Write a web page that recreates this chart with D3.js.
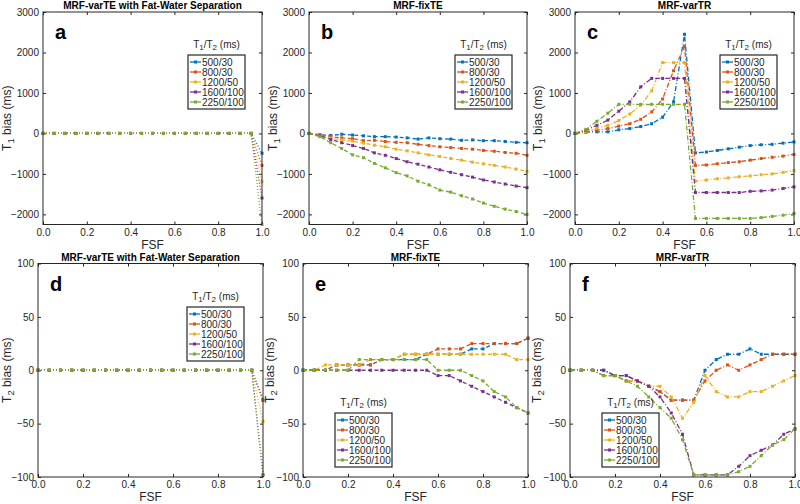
<!DOCTYPE html>
<html>
<head>
<meta charset="utf-8">
<script src="https://cdn.jsdelivr.net/npm/d3@7"></script>
<style>
  html, body { margin: 0; padding: 0; background: #fff; }
  svg { display: block; font-family: "Liberation Sans", Arial, Helvetica, sans-serif; }
</style>
</head>
<body>
<svg id="chart" width="800" height="504"></svg>
<script>
// ---------- data ----------
const fsf = [0, 0.05, 0.1, 0.15, 0.2, 0.25, 0.3, 0.35, 0.4, 0.45, 0.5, 0.55, 0.6, 0.65, 0.7, 0.75, 0.8, 0.85, 0.9, 0.95, 1.0];
const seriesNames = ["500/30", "800/30", "1200/50", "1600/100", "2250/100"];
const seriesColors = ["#0072BD", "#D95319", "#EDB120", "#7E2F8E", "#77AC30"];
const xTicks = [0, 0.2, 0.4, 0.6, 0.8, 1.0];
const t1Ticks = [-2000, -1000, 0, 1000, 2000, 3000];
const t2Ticks = [-100, -50, 0, 50, 100];
const t1Domain = [-2250, 3000];
const t2Domain = [-100, 100];

// (a) T1 bias, MRF-varTE with Fat-Water Separation
const t1VarTE = [
  [0,0,0,0,0,0,0,0,0,0,0,0,0,0,0,0,0,0,0,0,-490],
  [0,0,0,0,0,0,0,0,0,0,0,0,0,0,0,0,0,0,0,0,-790],
  [0,0,0,0,0,0,0,0,0,0,0,0,0,0,0,0,0,0,0,0,-1195],
  [0,0,0,0,0,0,0,0,0,0,0,0,0,0,0,0,0,0,0,0,-1595],
  [0,0,0,0,0,0,0,0,0,0,0,0,0,0,0,0,0,0,0,0,-2250]
];
// (b) T1 bias, MRF-fixTE
const t1FixTE = [
  [0,-30,-50,-20,-40,-60,-80,-80,-90,-110,-140,-110,-130,-140,-170,-160,-180,-180,-200,-220,-230],
  [0,-40,-80,-110,-130,-180,-170,-200,-220,-230,-270,-300,-330,-350,-370,-390,-420,-440,-470,-490,-540],
  [0,-50,-120,-160,-190,-240,-290,-330,-390,-430,-480,-530,-570,-620,-660,-710,-750,-790,-830,-880,-940],
  [0,-60,-150,-230,-300,-370,-480,-540,-620,-700,-760,-830,-900,-960,-1020,-1080,-1150,-1200,-1250,-1300,-1340],
  [0,-80,-230,-370,-530,-600,-740,-850,-970,-1050,-1180,-1270,-1400,-1450,-1540,-1620,-1720,-1800,-1870,-1930,-2000]
];
// (c) T1 bias, MRF-varTR
const t1VarTR = [
  [0,30,40,40,90,120,170,240,400,780,2450,-480,-460,-420,-380,-340,-300,-280,-270,-240,-210],
  [0,40,80,120,180,240,350,530,850,1550,2150,-790,-780,-750,-720,-700,-660,-620,-590,-560,-520],
  [0,50,130,200,320,480,700,1050,1750,1750,1750,-1180,-1150,-1120,-1100,-1070,-1050,-1020,-1000,-960,-920],
  [0,80,200,330,550,780,1150,1360,1360,1360,1360,-1460,-1460,-1460,-1460,-1460,-1430,-1420,-1400,-1360,-1320],
  [0,100,300,500,720,720,720,720,720,720,720,-2100,-2100,-2100,-2100,-2100,-2100,-2080,-2050,-2020,-1980]
];
// (d) T2 bias, MRF-varTE with Fat-Water Separation
const t2VarTE = [
  [0,0,0,0,0,0,0,0,0,0,0,0,0,0,0,0,0,0,0,0,-28],
  [0,0,0,0,0,0,0,0,0,0,0,0,0,0,0,0,0,0,0,0,-28],
  [0,0,0,0,0,0,0,0,0,0,0,0,0,0,0,0,0,0,0,0,-48],
  [0,0,0,0,0,0,0,0,0,0,0,0,0,0,0,0,0,0,0,0,-98],
  [0,0,0,0,0,0,0,0,0,0,0,0,0,0,0,0,0,0,0,0,-98]
];
// (e) T2 bias, MRF-fixTE
const t2FixTE = [
  [0,0,0,5,5,5,5,10,10,10,10,15,15,15,15,20,20,25,25,25,30],
  [0,0,0,5,5,5,5,10,10,15,15,15,20,20,20,25,25,25,25,25,30],
  [0,0,5,5,5,5,10,10,10,15,15,15,15,15,15,15,15,15,15,10,10],
  [0,0,0,0,0,0,0,0,0,0,0,0,-5,-5,-10,-15,-20,-25,-30,-35,-40],
  [0,0,0,0,0,10,10,10,10,10,10,10,0,0,0,-5,-10,-20,-25,-35,-40]
];
// (f) T2 bias, MRF-varTR
const t2VarTR = [
  [0,0,0,0,-5,-5,-10,-15,-20,-28,-28,-28,0,10,15,15,20,15,15,15,15],
  [0,0,0,-5,-5,-10,-10,-15,-20,-28,-28,-28,-10,0,5,0,5,10,15,15,15],
  [0,0,0,-5,-5,-10,-10,-15,-15,-25,-45,-30,-5,-20,-25,-25,-20,-20,-15,-10,-5],
  [0,0,0,0,-5,-5,-10,-15,-25,-40,-60,-98,-98,-98,-98,-90,-80,-75,-70,-60,-55],
  [0,0,0,-5,-5,-10,-15,-25,-35,-45,-65,-98,-98,-98,-98,-95,-90,-80,-70,-65,-55]
];

// ---------- layout ----------
const DOT = "1,2", DASH = "4,2.5", DASHDOT = "5,2,1,2";
const panels = [
  { letter: "a", title: "MRF-varTE with Fat-Water Separation", data: t1VarTE, dom: t1Domain, ticks: t1Ticks, param: "1",
    box: [43, 12, 262, 224.5], dash: DOT, leg: [188, 55], lab: 32 },
  { letter: "b", title: "MRF-fixTE", data: t1FixTE, dom: t1Domain, ticks: t1Ticks, param: "1",
    box: [309, 12, 527, 224.5], dash: DASH, leg: [455, 55], lab: 32 },
  { letter: "c", title: "MRF-varTR", data: t1VarTR, dom: t1Domain, ticks: t1Ticks, param: "1",
    box: [575, 12, 794, 224.5], dash: DASHDOT, leg: [720, 55], lab: 33 },
  { letter: "d", title: "MRF-varTE with Fat-Water Separation", data: t2VarTE, dom: t2Domain, ticks: t2Ticks, param: "2",
    box: [38, 263.5, 263, 477], dash: DOT, leg: [187, 307], lab: 27 },
  { letter: "e", title: "MRF-fixTE", data: t2FixTE, dom: t2Domain, ticks: t2Ticks, param: "2",
    box: [303, 263.5, 528, 477], dash: DASH, leg: [335, 413], lab: 29 },
  { letter: "f", title: "MRF-varTR", data: t2VarTR, dom: t2Domain, ticks: t2Ticks, param: "2",
    box: [570, 263.5, 795, 477], dash: DASHDOT, leg: [602, 413], lab: 29 }
];

const AX = "#262626";
const svg = d3.select("#chart");

function subText(sel, parts) {
  parts.forEach(([t, sub]) => {
    const ts = sel.append("tspan").text(t);
    if (sub) ts.attr("baseline-shift", "-25%").attr("font-size", "0.8em");
  });
}

panels.forEach(p => {
  const [x0, y0, x1, y1] = p.box;
  const x = d3.scaleLinear().domain([0, 1]).range([x0, x1]);
  const y = d3.scaleLinear().domain(p.dom).range([y1, y0]);
  const g = svg.append("g");

  // axes (inward ticks, box on)
  const fmtX = d3.format(".1f");
  g.append("g").attr("transform", `translate(0,${y1})`)
    .call(d3.axisBottom(x).tickValues(xTicks).tickFormat(fmtX).tickSizeInner(-3).tickSizeOuter(0).tickPadding(4))
    .call(s => s.select(".domain").remove());
  g.append("g").attr("transform", `translate(0,${y0})`)
    .call(d3.axisTop(x).tickValues(xTicks).tickFormat("").tickSizeInner(-3).tickSizeOuter(0))
    .call(s => s.select(".domain").remove());
  g.append("g").attr("transform", `translate(${x0},0)`)
    .call(d3.axisLeft(y).tickValues(p.ticks).tickFormat(d3.format("d")).tickSizeInner(-3).tickSizeOuter(0).tickPadding(4))
    .call(s => s.select(".domain").remove());
  g.append("g").attr("transform", `translate(${x1},0)`)
    .call(d3.axisRight(y).tickValues(p.ticks).tickFormat("").tickSizeInner(-3).tickSizeOuter(0))
    .call(s => s.select(".domain").remove());
  g.selectAll(".tick line").attr("stroke", AX).attr("stroke-width", 1);
  g.selectAll(".tick text").attr("fill", AX).attr("font-size", 10)
    .attr("font-family", '"Liberation Sans", Arial, sans-serif');

  // data lines
  const clipId = "clip" + p.letter;
  svg.append("clipPath").attr("id", clipId).append("rect")
    .attr("x", x0 - 2).attr("y", y0 - 2).attr("width", x1 - x0 + 4).attr("height", y1 - y0 + 4);
  const line = d3.line().x((d, i) => x(fsf[i])).y(d => y(d));
  const dg = g.append("g").attr("clip-path", `url(#${clipId})`);
  p.data.forEach((vals, si) => {
    dg.append("path").datum(vals).attr("d", line)
      .attr("fill", "none").attr("stroke", seriesColors[si]).attr("stroke-width", 1.3)
      .attr("stroke-dasharray", p.dash);
    dg.selectAll(null).data(vals).enter().append("rect")
      .attr("x", (d, i) => x(fsf[i]) - 1.5).attr("y", d => y(d) - 1.5)
      .attr("width", 3).attr("height", 3).attr("fill", seriesColors[si]);
  });

  // box
  g.append("rect").attr("x", x0).attr("y", y0).attr("width", x1 - x0).attr("height", y1 - y0)
    .attr("fill", "none").attr("stroke", AX).attr("stroke-width", 1);

  // title
  g.append("text").attr("x", (x0 + x1) / 2).attr("y", y0 - 3).attr("text-anchor", "middle")
    .attr("font-size", 10).attr("font-weight", "bold").attr("fill", "#000").text(p.title);

  // panel letter
  g.append("text").attr("x", x0 + 12).attr("y", y0 + 27).attr("font-size", 20)
    .attr("font-weight", "bold").attr("fill", "#000").text(p.letter);

  // x label
  g.append("text").attr("x", (x0 + x1) / 2).attr("y", y1 + 24).attr("text-anchor", "middle")
    .attr("font-size", 12).attr("fill", AX).text("FSF");

  // y label
  const yl = g.append("text").attr("transform", `translate(${x0 - p.lab},${(y0 + y1) / 2}) rotate(-90)`)
    .attr("text-anchor", "middle").attr("font-size", 12).attr("fill", AX);
  subText(yl, [["T", false], [p.param, true], [" bias (ms)", false]]);

  // legend
  const [lx, ly] = p.leg;
  const lw = 57, lh = 54, step = 10;
  const lt = g.append("text").attr("x", lx + lw / 2).attr("y", ly - 7).attr("text-anchor", "middle")
    .attr("font-size", 10).attr("fill", AX);
  subText(lt, [["T", false], ["1", true], ["/T", false], ["2", true], [" (ms)", false]]);
  g.append("rect").attr("x", lx).attr("y", ly).attr("width", lw).attr("height", lh)
    .attr("fill", "#fff").attr("stroke", AX).attr("stroke-width", 1.2);
  seriesNames.forEach((name, si) => {
    const cy = ly + 7 + si * step;
    g.append("line").attr("x1", lx + 2).attr("x2", lx + 13).attr("y1", cy).attr("y2", cy)
      .attr("stroke", seriesColors[si]).attr("stroke-width", 1.3);
    g.append("rect").attr("x", lx + 6).attr("y", cy - 1.5).attr("width", 3).attr("height", 3)
      .attr("fill", seriesColors[si]);
    g.append("text").attr("x", lx + 14).attr("y", cy + 3.5).attr("font-size", 10)
      .attr("fill", AX).text(name);
  });
});
</script>
</body>
</html>
